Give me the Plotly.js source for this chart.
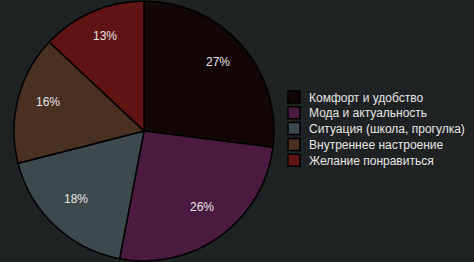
<!DOCTYPE html>
<html><head><meta charset="utf-8">
<script src="https://cdn.plot.ly/plotly-3.0.1.min.js"></script>
<style>html,body{margin:0;padding:0;background:#1f2222;}</style>
</head><body>
<div id="chart" style="width:474px;height:262px;"></div>
<script>
const categories = ["Комфорт и удобство", "Мода и актуальность", "Ситуация (школа, прогулка)", "Внутреннее настроение", "Желание понравиться"];
const values = [27, 26, 18, 16, 13];
const colors = ["#140606", "#4a1a40", "#3c4a4d", "#4a3020", "#601313"];

const W = 474, H = 262;
const domX = [14/W, 274/W];

const trace = {
  type: "pie",
  labels: categories,
  values: values,
  sort: false,
  direction: "clockwise",
  rotation: 0,
  marker: {colors: colors, line: {color: "#000000", width: 1.5}},
  textinfo: "none",
  textposition: "none",
  domain: {x: domX, y: [0, 1]},
  hoverinfo: "none"
};

// percentage labels placed along each slice bisector, computed from values
const total = values.reduce((a, b) => a + b, 0);
const cx = (domX[0] + domX[1]) / 2 * W, cy = H / 2;
const R = Math.min((domX[1] - domX[0]) * W, H) / 2;
let cum = 0;
const annotations = values.map(v => {
  const a = (cum + v / 2) / total * 2 * Math.PI;
  cum += v;
  const px = cx + 0.76 * R * Math.sin(a);
  const py = cy - 0.76 * R * Math.cos(a);
  return {
    x: px / W, y: 1 - py / H, xref: "paper", yref: "paper",
    xanchor: "center", yanchor: "middle",
    text: Math.round(v / total * 100) + "%", showarrow: false, yshift: 4,
    font: {family: "Liberation Sans, Arial, sans-serif", size: 12, color: "#e6e6e6"}
  };
});

const layout = {
  width: W, height: H,
  margin: {l: 0, r: 0, t: 0, b: 0},
  paper_bgcolor: "#1f2222",
  plot_bgcolor: "#1f2222",
  showlegend: true,
  annotations: annotations,
  legend: {
    x: 269/W, y: 0.5, xanchor: "left", yanchor: "middle",
    font: {family: "Liberation Sans, Arial, sans-serif", size: 12, color: "#e6e6e6"},
    bgcolor: "rgba(0,0,0,0)",
    tracegroupgap: 0, itemwidth: 30
  }
};

Plotly.newPlot("chart", [trace], layout, {displayModeBar: false, staticPlot: true}).then(gd => {
  // tighten legend row spacing and nudge swatches toward the text
  const items = gd.querySelectorAll(".legend .traces");
  const legend = gd.querySelector(".legend");
  const lt = legend.getAttribute("transform").match(/translate\(([-\d.]+),\s*([-\d.]+)\)/);
  const ly = parseFloat(lt[2]);
  const step = 15.8, firstCenter = 97;
  items.forEach((g, i) => {
    g.setAttribute("transform", "translate(0," + (firstCenter + i * step - ly) + ")");
    const pts = g.querySelector(".legendpoints");
    if (pts) pts.setAttribute("transform", "translate(5,0)");
  });
});
</script>
</body></html>
